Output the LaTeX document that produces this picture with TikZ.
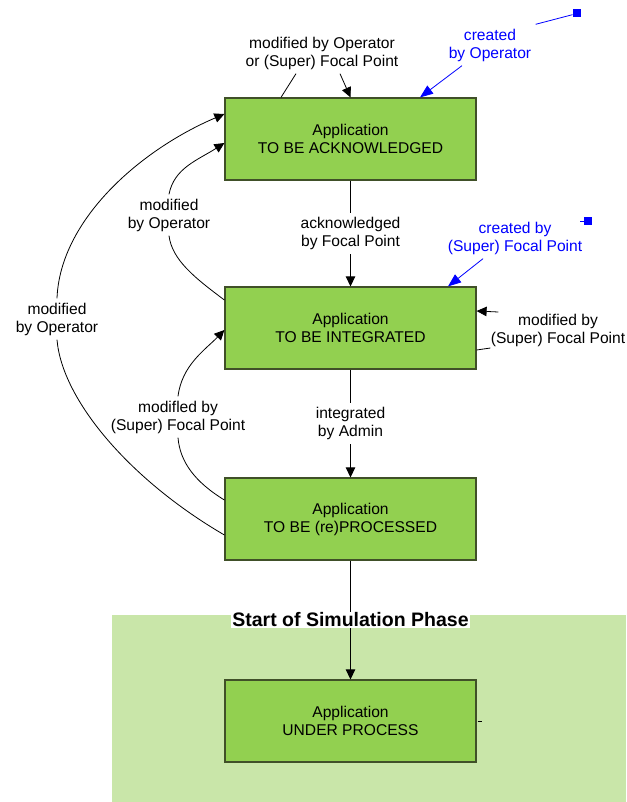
\documentclass[tikz,border=0pt]{standalone}
\usepackage{fontspec}
\setmainfont{Liberation Sans}
\usetikzlibrary{arrows.meta}
\definecolor{appgreen}{RGB}{146,208,80}
\definecolor{appedge}{RGB}{64,80,40}
\definecolor{simgreen}{RGB}{201,230,169}

\begin{document}
\begin{tikzpicture}[x=1pt, y=-1pt, line width=0.8pt,
    every node/.style={font=\fontsize{15.6}{18}\selectfont},
    state/.style={draw=appedge, line width=1.2pt, fill=appgreen, minimum width=251pt, minimum height=82pt, align=center, inner sep=0pt},
    lbl/.style={align=center, inner sep=4pt},
    blbl/.style={lbl, text=blue},
    marker/.style={fill=blue, minimum size=8pt, inner sep=0pt},
    arr/.style={-{Triangle[length=10pt,width=9.5pt]}},
    barr/.style={blue, -{Triangle[length=13pt,width=10pt]}}]
    \useasboundingbox (0,0) rectangle (626,802);
    \clip (0,0) rectangle (626,802);
    % simulation phase area
    \fill[simgreen] (112,615) rectangle (626,802);

    % states
    \node[state] (ack) at (350.5,139) {Application\\TO BE ACKNOWLEDGED};
    \node[state] (int) at (350.5,328) {Application\\TO BE INTEGRATED};
    \node[state] (proc) at (350.5,519) {Application\\TO BE (re)PROCESSED};
    \node[state] (under) at (350.5,721) {Application\\UNDER PROCESS};

    % main flow
    \draw[arr] (ack) -- node[lbl, fill=white] (ackd) {acknowledged\\by Focal Point} (int);
    \draw[arr] (int) -- node[lbl, fill=white] (intd) {integrated\\by Admin} (proc);
    \draw[arr] (proc) -- node[fill=white, inner sep=1pt, font=\bfseries\fontsize{19.5}{22}\selectfont] (phase) {Start of Simulation Phase} (under);
    \draw[line width=0.5pt] ([xshift=1pt]under.east) -- ++(4,0);

    % loop on top
    \node[lbl] (top) at (322,53) {modified by Operator\\or (Super) Focal Point};
    \draw ([xshift=-69.5pt]ack.north) -- ([xshift=-26pt]top.south);
    \draw[arr] ([xshift=18pt]top.south) -- (ack.north);

    % loops on the left
    \node[lbl] (opinner) at (169,215) {modified\\by Operator};
    \node[lbl] (opouter) at (57,319) {modified\\by Operator};
    \node[lbl] (fpleft) at (178,417) {modifled by\\(Super) Focal Point};
    \draw ([yshift=-16pt]proc.west) .. controls (130,480) and (62,400) .. (opouter.south);
    \draw[arr] (opouter.north) .. controls (60,220) and (140,150) .. ([yshift=25pt]ack.west);
    \draw ([yshift=28pt]int.west) .. controls (195,278) and (172,260) .. (opinner.south);
    \draw[arr] (opinner.north) .. controls (174,168) and (198,160) .. ([yshift=-4pt]ack.west);
    \draw ([yshift=19pt]proc.west) .. controls (195,482) and (180,462) .. (fpleft.south);
    \draw[arr] (fpleft.north) .. controls (182,365) and (205,350) .. ([yshift=-2pt]int.west);

    % loop on the right
    \node[lbl] (fpright) at (558,330) {modified by\\(Super) Focal Point};
    \draw[arr] ([xshift=12pt,yshift=18pt]fpright.west) -- ([yshift=17pt]int.east);
    \draw ([yshift=-22pt]int.east) -- ([xshift=4pt,yshift=-18pt]fpright.west);

    % creation
    \node[blbl] (byop) at (490,45) {created\\by Operator};
    \node[marker] (mark1) at (577,13.5) {};
    \draw[blue] (mark1) -- (byop.north east);
    \draw[barr] ([xshift=-28pt]byop.south) -- ([xshift=69.5pt]ack.north);
    \node[blbl] (byfp) at (515,238) {created by\\(Super) Focal Point};
    \node[marker] (mark2) at (588,221) {};
    \draw[blue] (mark2.west) -- ++(-4,0);
    \draw[barr] ([xshift=-32pt]byfp.south) -- ([xshift=97.5pt]int.north);
\end{tikzpicture}
\end{document}
